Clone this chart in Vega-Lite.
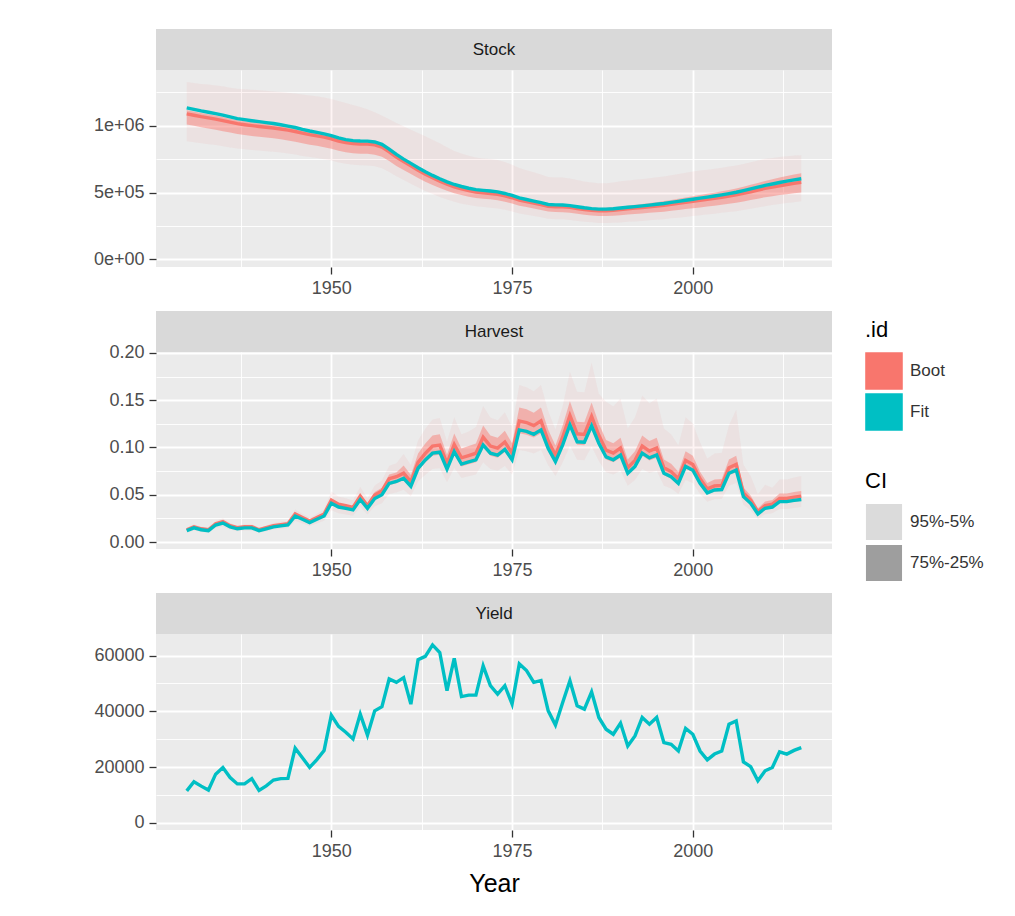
{
  "$schema": "https://vega.github.io/schema/vega-lite/v6.json",
  "background": "white",
  "padding": {"left": 93, "top": 29, "right": 0, "bottom": 0},
  "config": {
    "font": "Liberation Sans",
    "view": {"fill": "#ebebeb", "stroke": null},
    "axis": {
      "labelFont": "Liberation Sans", "labelFontSize": 18, "labelColor": "#4d4d4d",
      "tickColor": "#333333", "tickSize": 7, "tickWidth": 1.3, "labelPadding": 5,
      "domain": false, "gridColor": "#ffffff", "gridWidth": 1.8, "titleFont": "Liberation Sans"
    },
    "axisLeft": {"minExtent": 62, "maxExtent": 62},
    "legend": {
      "titleFont": "Liberation Sans", "labelFont": "Liberation Sans",
      "titleFontSize": 22, "titleFontWeight": "normal", "titleColor": "#000000",
      "labelFontSize": 17, "labelColor": "#333333", "symbolType": "square", "symbolSize": 1300,
      "symbolOpacity": 1,
      "rowPadding": -3, "labelOffset": 7, "titlePadding": 10, "padding": 0
    }
  },
  "datasets": {
    "stock": [
      {"year":1930,"fit":1133000,"med":1088000,"q25":1008000,"q75":1116000,"q05":884000,"q95":1326000},
      {"year":1931,"fit":1122000,"med":1078000,"q25":999000,"q75":1106000,"q05":876000,"q95":1319000},
      {"year":1932,"fit":1110000,"med":1067000,"q25":988000,"q75":1094000,"q05":868000,"q95":1312000},
      {"year":1933,"fit":1100000,"med":1058000,"q25":979000,"q75":1085000,"q05":861000,"q95":1307000},
      {"year":1934,"fit":1090000,"med":1049000,"q25":970000,"q75":1076000,"q05":855000,"q95":1301000},
      {"year":1935,"fit":1078000,"med":1038000,"q25":959000,"q75":1065000,"q05":846000,"q95":1294000},
      {"year":1936,"fit":1065000,"med":1026000,"q25":948000,"q75":1052000,"q05":837000,"q95":1284000},
      {"year":1937,"fit":1053000,"med":1015000,"q25":937000,"q75":1041000,"q05":829000,"q95":1276000},
      {"year":1938,"fit":1045000,"med":1007000,"q25":930000,"q75":1034000,"q05":823000,"q95":1273000},
      {"year":1939,"fit":1037000,"med":1000000,"q25":923000,"q75":1026000,"q05":818000,"q95":1269000},
      {"year":1940,"fit":1030000,"med":994000,"q25":917000,"q75":1020000,"q05":814000,"q95":1264000},
      {"year":1941,"fit":1023000,"med":988000,"q25":911000,"q75":1014000,"q05":809000,"q95":1260000},
      {"year":1942,"fit":1016000,"med":982000,"q25":905000,"q75":1008000,"q05":805000,"q95":1256000},
      {"year":1943,"fit":1007000,"med":975000,"q25":898000,"q75":1000000,"q05":799000,"q95":1251000},
      {"year":1944,"fit":997000,"med":966000,"q25":889000,"q75":991000,"q05":792000,"q95":1246000},
      {"year":1945,"fit":986000,"med":956000,"q25":880000,"q75":981000,"q05":784000,"q95":1240000},
      {"year":1946,"fit":972000,"med":944000,"q25":868000,"q75":968000,"q05":774000,"q95":1233000},
      {"year":1947,"fit":960000,"med":933000,"q25":858000,"q75":957000,"q05":765000,"q95":1226000},
      {"year":1948,"fit":950000,"med":924000,"q25":849000,"q75":948000,"q05":758000,"q95":1219000},
      {"year":1949,"fit":938000,"med":914000,"q25":839000,"q75":937000,"q05":749000,"q95":1210000},
      {"year":1950,"fit":925000,"med":902000,"q25":828000,"q75":925000,"q05":740000,"q95":1200000},
      {"year":1951,"fit":908000,"med":885000,"q25":812000,"q75":908000,"q05":725000,"q95":1185000},
      {"year":1952,"fit":896000,"med":874000,"q25":801000,"q75":896000,"q05":715000,"q95":1170000},
      {"year":1953,"fit":888000,"med":866000,"q25":793000,"q75":888000,"q05":708000,"q95":1155000},
      {"year":1954,"fit":885000,"med":863000,"q25":790000,"q75":885000,"q05":704000,"q95":1140000},
      {"year":1955,"fit":884000,"med":862000,"q25":789000,"q75":884000,"q05":703000,"q95":1122000},
      {"year":1956,"fit":878000,"med":856000,"q25":783000,"q75":878000,"q05":697000,"q95":1100000},
      {"year":1957,"fit":860000,"med":839000,"q25":767000,"q75":860000,"q05":682000,"q95":1075000},
      {"year":1958,"fit":825000,"med":804000,"q25":735000,"q75":825000,"q05":653000,"q95":1048000},
      {"year":1959,"fit":785000,"med":765000,"q25":699000,"q75":785000,"q05":621000,"q95":1020000},
      {"year":1960,"fit":750000,"med":731000,"q25":668000,"q75":750000,"q05":593000,"q95":995000},
      {"year":1961,"fit":718000,"med":699000,"q25":638000,"q75":718000,"q05":565000,"q95":970000},
      {"year":1962,"fit":685000,"med":667000,"q25":608000,"q75":685000,"q05":537000,"q95":945000},
      {"year":1963,"fit":655000,"med":637000,"q25":581000,"q75":655000,"q05":512000,"q95":920000},
      {"year":1964,"fit":628000,"med":610000,"q25":556000,"q75":628000,"q05":489000,"q95":895000},
      {"year":1965,"fit":603000,"med":585000,"q25":534000,"q75":603000,"q05":467000,"q95":868000},
      {"year":1966,"fit":580000,"med":562000,"q25":513000,"q75":580000,"q05":448000,"q95":838000},
      {"year":1967,"fit":560000,"med":542000,"q25":494000,"q75":560000,"q05":431000,"q95":811000},
      {"year":1968,"fit":545000,"med":527000,"q25":481000,"q75":545000,"q05":417000,"q95":791000},
      {"year":1969,"fit":532000,"med":514000,"q25":469000,"q75":532000,"q05":406000,"q95":775000},
      {"year":1970,"fit":522000,"med":504000,"q25":459000,"q75":522000,"q05":397000,"q95":762000},
      {"year":1971,"fit":516000,"med":498000,"q25":454000,"q75":517000,"q05":391000,"q95":755000},
      {"year":1972,"fit":511000,"med":493000,"q25":449000,"q75":512000,"q05":386000,"q95":750000},
      {"year":1973,"fit":505000,"med":487000,"q25":443000,"q75":507000,"q05":381000,"q95":743000},
      {"year":1974,"fit":493000,"med":476000,"q25":432000,"q75":495000,"q05":371000,"q95":728000},
      {"year":1975,"fit":478000,"med":461000,"q25":418000,"q75":480000,"q05":359000,"q95":707000},
      {"year":1976,"fit":460000,"med":444000,"q25":402000,"q75":463000,"q05":344000,"q95":683000},
      {"year":1977,"fit":448000,"med":432000,"q25":391000,"q75":451000,"q05":334000,"q95":667000},
      {"year":1978,"fit":436000,"med":421000,"q25":380000,"q75":439000,"q05":324000,"q95":651000},
      {"year":1979,"fit":424000,"med":409000,"q25":369000,"q75":428000,"q05":315000,"q95":634000},
      {"year":1980,"fit":411000,"med":397000,"q25":358000,"q75":415000,"q05":304000,"q95":617000},
      {"year":1981,"fit":408000,"med":394000,"q25":355000,"q75":413000,"q05":301000,"q95":613000},
      {"year":1982,"fit":407000,"med":393000,"q25":353000,"q75":413000,"q05":300000,"q95":612000},
      {"year":1983,"fit":402000,"med":389000,"q25":349000,"q75":408000,"q05":295000,"q95":605000},
      {"year":1984,"fit":394000,"med":381000,"q25":341000,"q75":401000,"q05":288000,"q95":594000},
      {"year":1985,"fit":386000,"med":373000,"q25":334000,"q75":394000,"q05":282000,"q95":583000},
      {"year":1986,"fit":380000,"med":368000,"q25":328000,"q75":388000,"q05":277000,"q95":575000},
      {"year":1987,"fit":376000,"med":364000,"q25":324000,"q75":385000,"q05":273000,"q95":569000},
      {"year":1988,"fit":376000,"med":364000,"q25":324000,"q75":386000,"q05":272000,"q95":570000},
      {"year":1989,"fit":379000,"med":367000,"q25":326000,"q75":390000,"q05":274000,"q95":575000},
      {"year":1990,"fit":384000,"med":372000,"q25":330000,"q75":396000,"q05":276000,"q95":584000},
      {"year":1991,"fit":390000,"med":378000,"q25":335000,"q75":402000,"q05":281000,"q95":590000},
      {"year":1992,"fit":395000,"med":383000,"q25":339000,"q75":408000,"q05":284000,"q95":596000},
      {"year":1993,"fit":400000,"med":387000,"q25":343000,"q75":414000,"q05":288000,"q95":601000},
      {"year":1994,"fit":406000,"med":393000,"q25":348000,"q75":421000,"q05":292000,"q95":607000},
      {"year":1995,"fit":412000,"med":399000,"q25":352000,"q75":428000,"q05":297000,"q95":614000},
      {"year":1996,"fit":418000,"med":404000,"q25":357000,"q75":436000,"q05":301000,"q95":620000},
      {"year":1997,"fit":426000,"med":412000,"q25":363000,"q75":445000,"q05":307000,"q95":630000},
      {"year":1998,"fit":434000,"med":419000,"q25":370000,"q75":454000,"q05":312000,"q95":639000},
      {"year":1999,"fit":442000,"med":427000,"q25":376000,"q75":463000,"q05":318000,"q95":648000},
      {"year":2000,"fit":450000,"med":434000,"q25":383000,"q75":473000,"q05":324000,"q95":657000},
      {"year":2001,"fit":458000,"med":442000,"q25":389000,"q75":481000,"q05":330000,"q95":664000},
      {"year":2002,"fit":466000,"med":449000,"q25":395000,"q75":490000,"q05":336000,"q95":671000},
      {"year":2003,"fit":474000,"med":457000,"q25":401000,"q75":499000,"q05":341000,"q95":678000},
      {"year":2004,"fit":483000,"med":465000,"q25":409000,"q75":509000,"q05":348000,"q95":686000},
      {"year":2005,"fit":492000,"med":474000,"q25":416000,"q75":519000,"q05":354000,"q95":694000},
      {"year":2006,"fit":502000,"med":483000,"q25":424000,"q75":530000,"q05":361000,"q95":703000},
      {"year":2007,"fit":514000,"med":494000,"q25":433000,"q75":543000,"q05":370000,"q95":714000},
      {"year":2008,"fit":527000,"med":506000,"q25":444000,"q75":558000,"q05":379000,"q95":727000},
      {"year":2009,"fit":540000,"med":519000,"q25":454000,"q75":572000,"q05":389000,"q95":740000},
      {"year":2010,"fit":553000,"med":531000,"q25":465000,"q75":586000,"q05":398000,"q95":752000},
      {"year":2011,"fit":564000,"med":541000,"q25":473000,"q75":599000,"q05":406000,"q95":759000},
      {"year":2012,"fit":575000,"med":551000,"q25":481000,"q75":612000,"q05":414000,"q95":766000},
      {"year":2013,"fit":585000,"med":560000,"q25":488000,"q75":624000,"q05":421000,"q95":771000},
      {"year":2014,"fit":595000,"med":569000,"q25":495000,"q75":635000,"q05":428000,"q95":776000},
      {"year":2015,"fit":603000,"med":576000,"q25":500000,"q75":645000,"q05":434000,"q95":778000}
    ],
    "harvest": [
      {"year":1930,"fit":0.012,"med":0.0130,"q25":0.0116,"q75":0.0132,"q05":0.0098,"q95":0.0150},
      {"year":1931,"fit":0.015,"med":0.0162,"q25":0.0146,"q75":0.0165,"q05":0.0123,"q95":0.0188},
      {"year":1932,"fit":0.013,"med":0.0140,"q25":0.0126,"q75":0.0143,"q05":0.0107,"q95":0.0163},
      {"year":1933,"fit":0.012,"med":0.0130,"q25":0.0116,"q75":0.0132,"q05":0.0098,"q95":0.0150},
      {"year":1934,"fit":0.018,"med":0.0194,"q25":0.0175,"q75":0.0198,"q05":0.0148,"q95":0.0225},
      {"year":1935,"fit":0.020,"med":0.0216,"q25":0.0194,"q75":0.0220,"q05":0.0164,"q95":0.0250},
      {"year":1936,"fit":0.016,"med":0.0173,"q25":0.0155,"q75":0.0176,"q05":0.0131,"q95":0.0200},
      {"year":1937,"fit":0.014,"med":0.0151,"q25":0.0136,"q75":0.0154,"q05":0.0115,"q95":0.0175},
      {"year":1938,"fit":0.015,"med":0.0162,"q25":0.0146,"q75":0.0165,"q05":0.0123,"q95":0.0188},
      {"year":1939,"fit":0.015,"med":0.0162,"q25":0.0146,"q75":0.0165,"q05":0.0123,"q95":0.0188},
      {"year":1940,"fit":0.012,"med":0.0130,"q25":0.0116,"q75":0.0132,"q05":0.0098,"q95":0.0150},
      {"year":1941,"fit":0.014,"med":0.0151,"q25":0.0136,"q75":0.0154,"q05":0.0115,"q95":0.0175},
      {"year":1942,"fit":0.016,"med":0.0173,"q25":0.0155,"q75":0.0176,"q05":0.0131,"q95":0.0200},
      {"year":1943,"fit":0.017,"med":0.0184,"q25":0.0165,"q75":0.0187,"q05":0.0139,"q95":0.0213},
      {"year":1944,"fit":0.018,"med":0.0194,"q25":0.0175,"q75":0.0198,"q05":0.0148,"q95":0.0225},
      {"year":1945,"fit":0.0275,"med":0.0297,"q25":0.0267,"q75":0.0303,"q05":0.0226,"q95":0.0344},
      {"year":1946,"fit":0.024,"med":0.0259,"q25":0.0233,"q75":0.0264,"q05":0.0197,"q95":0.0300},
      {"year":1947,"fit":0.0205,"med":0.0221,"q25":0.0199,"q75":0.0226,"q05":0.0168,"q95":0.0256},
      {"year":1948,"fit":0.024,"med":0.0259,"q25":0.0233,"q75":0.0264,"q05":0.0197,"q95":0.0300},
      {"year":1949,"fit":0.0275,"med":0.0297,"q25":0.0267,"q75":0.0303,"q05":0.0226,"q95":0.0344},
      {"year":1950,"fit":0.041,"med":0.0443,"q25":0.0398,"q75":0.0451,"q05":0.0336,"q95":0.0533},
      {"year":1951,"fit":0.037,"med":0.0400,"q25":0.0359,"q75":0.0407,"q05":0.0303,"q95":0.0481},
      {"year":1952,"fit":0.0356,"med":0.0384,"q25":0.0345,"q75":0.0392,"q05":0.0292,"q95":0.0463},
      {"year":1953,"fit":0.034,"med":0.0367,"q25":0.0330,"q75":0.0374,"q05":0.0279,"q95":0.0442},
      {"year":1954,"fit":0.045,"med":0.0486,"q25":0.0437,"q75":0.0495,"q05":0.0369,"q95":0.0585},
      {"year":1955,"fit":0.0356,"med":0.0384,"q25":0.0345,"q75":0.0409,"q05":0.0292,"q95":0.0463},
      {"year":1956,"fit":0.046,"med":0.0497,"q25":0.0446,"q75":0.0529,"q05":0.0377,"q95":0.0598},
      {"year":1957,"fit":0.050,"med":0.0540,"q25":0.0485,"q75":0.0575,"q05":0.0410,"q95":0.0650},
      {"year":1958,"fit":0.062,"med":0.0670,"q25":0.0601,"q75":0.0713,"q05":0.0508,"q95":0.0806},
      {"year":1959,"fit":0.064,"med":0.0691,"q25":0.0621,"q75":0.0736,"q05":0.0525,"q95":0.0832},
      {"year":1960,"fit":0.0674,"med":0.0728,"q25":0.0654,"q75":0.0809,"q05":0.0553,"q95":0.0930},
      {"year":1961,"fit":0.059,"med":0.0637,"q25":0.0572,"q75":0.0708,"q05":0.0484,"q95":0.0814},
      {"year":1962,"fit":0.078,"med":0.0842,"q25":0.0757,"q75":0.0936,"q05":0.0640,"q95":0.1076},
      {"year":1963,"fit":0.0868,"med":0.0937,"q25":0.0842,"q75":0.1042,"q05":0.0712,"q95":0.1198},
      {"year":1964,"fit":0.094,"med":0.1015,"q25":0.0912,"q75":0.1128,"q05":0.0771,"q95":0.1297},
      {"year":1965,"fit":0.095,"med":0.1026,"q25":0.0922,"q75":0.1140,"q05":0.0779,"q95":0.1311},
      {"year":1966,"fit":0.077,"med":0.0832,"q25":0.0747,"q75":0.0924,"q05":0.0631,"q95":0.1063},
      {"year":1967,"fit":0.0956,"med":0.1032,"q25":0.0927,"q75":0.1147,"q05":0.0784,"q95":0.1319},
      {"year":1968,"fit":0.0825,"med":0.0891,"q25":0.0800,"q75":0.0990,"q05":0.0677,"q95":0.1139},
      {"year":1969,"fit":0.0847,"med":0.0915,"q25":0.0822,"q75":0.1016,"q05":0.0695,"q95":0.1169},
      {"year":1970,"fit":0.0869,"med":0.0939,"q25":0.0843,"q75":0.1043,"q05":0.0713,"q95":0.1217},
      {"year":1971,"fit":0.1027,"med":0.1109,"q25":0.0996,"q75":0.1232,"q05":0.0842,"q95":0.1438},
      {"year":1972,"fit":0.094,"med":0.1015,"q25":0.0912,"q75":0.1128,"q05":0.0771,"q95":0.1316},
      {"year":1973,"fit":0.092,"med":0.0994,"q25":0.0892,"q75":0.1104,"q05":0.0754,"q95":0.1288},
      {"year":1974,"fit":0.098,"med":0.1058,"q25":0.0951,"q75":0.1176,"q05":0.0804,"q95":0.1372},
      {"year":1975,"fit":0.087,"med":0.0940,"q25":0.0844,"q75":0.1044,"q05":0.0713,"q95":0.1218},
      {"year":1976,"fit":0.1186,"med":0.1281,"q25":0.1150,"q75":0.1423,"q05":0.0973,"q95":0.1660},
      {"year":1977,"fit":0.117,"med":0.1264,"q25":0.1135,"q75":0.1404,"q05":0.0959,"q95":0.1638},
      {"year":1978,"fit":0.114,"med":0.1231,"q25":0.1106,"q75":0.1368,"q05":0.0935,"q95":0.1596},
      {"year":1979,"fit":0.1186,"med":0.1281,"q25":0.1150,"q75":0.1423,"q05":0.0973,"q95":0.1660},
      {"year":1980,"fit":0.099,"med":0.1069,"q25":0.0960,"q75":0.1188,"q05":0.0812,"q95":0.1386},
      {"year":1981,"fit":0.085,"med":0.0918,"q25":0.0825,"q75":0.1020,"q05":0.0697,"q95":0.1190},
      {"year":1982,"fit":0.1027,"med":0.1109,"q25":0.0996,"q75":0.1232,"q05":0.0842,"q95":0.1438},
      {"year":1983,"fit":0.124,"med":0.1339,"q25":0.1203,"q75":0.1488,"q05":0.1017,"q95":0.1800},
      {"year":1984,"fit":0.106,"med":0.1145,"q25":0.1028,"q75":0.1272,"q05":0.0869,"q95":0.1590},
      {"year":1985,"fit":0.1055,"med":0.1139,"q25":0.1023,"q75":0.1266,"q05":0.0865,"q95":0.1583},
      {"year":1986,"fit":0.123,"med":0.1328,"q25":0.1193,"q75":0.1476,"q05":0.1009,"q95":0.1900},
      {"year":1987,"fit":0.1045,"med":0.1129,"q25":0.1014,"q75":0.1254,"q05":0.0857,"q95":0.1568},
      {"year":1988,"fit":0.090,"med":0.0972,"q25":0.0873,"q75":0.1080,"q05":0.0738,"q95":0.1485},
      {"year":1989,"fit":0.087,"med":0.0940,"q25":0.0844,"q75":0.1044,"q05":0.0713,"q95":0.1436},
      {"year":1990,"fit":0.092,"med":0.0994,"q25":0.0892,"q75":0.1104,"q05":0.0754,"q95":0.1518},
      {"year":1991,"fit":0.0727,"med":0.0785,"q25":0.0705,"q75":0.0872,"q05":0.0596,"q95":0.1200},
      {"year":1992,"fit":0.080,"med":0.0864,"q25":0.0776,"q75":0.0960,"q05":0.0656,"q95":0.1320},
      {"year":1993,"fit":0.094,"med":0.1015,"q25":0.0912,"q75":0.1128,"q05":0.0771,"q95":0.1551},
      {"year":1994,"fit":0.089,"med":0.0961,"q25":0.0863,"q75":0.1068,"q05":0.0730,"q95":0.1469},
      {"year":1995,"fit":0.092,"med":0.0994,"q25":0.0892,"q75":0.1104,"q05":0.0754,"q95":0.1518},
      {"year":1996,"fit":0.0727,"med":0.0785,"q25":0.0705,"q75":0.0872,"q05":0.0596,"q95":0.1200},
      {"year":1997,"fit":0.069,"med":0.0745,"q25":0.0669,"q75":0.0828,"q05":0.0566,"q95":0.1139},
      {"year":1998,"fit":0.062,"med":0.0670,"q25":0.0601,"q75":0.0744,"q05":0.0508,"q95":0.1023},
      {"year":1999,"fit":0.080,"med":0.0864,"q25":0.0776,"q75":0.0960,"q05":0.0656,"q95":0.1320},
      {"year":2000,"fit":0.076,"med":0.0821,"q25":0.0737,"q75":0.0912,"q05":0.0623,"q95":0.1254},
      {"year":2001,"fit":0.062,"med":0.0670,"q25":0.0601,"q75":0.0744,"q05":0.0508,"q95":0.1054},
      {"year":2002,"fit":0.052,"med":0.0562,"q25":0.0504,"q75":0.0624,"q05":0.0426,"q95":0.0884},
      {"year":2003,"fit":0.055,"med":0.0594,"q25":0.0534,"q75":0.0660,"q05":0.0451,"q95":0.0935},
      {"year":2004,"fit":0.0555,"med":0.0599,"q25":0.0538,"q75":0.0666,"q05":0.0455,"q95":0.0944},
      {"year":2005,"fit":0.0727,"med":0.0785,"q25":0.0705,"q75":0.0872,"q05":0.0596,"q95":0.1236},
      {"year":2006,"fit":0.076,"med":0.0821,"q25":0.0737,"q75":0.0912,"q05":0.0623,"q95":0.1400},
      {"year":2007,"fit":0.048,"med":0.0518,"q25":0.0466,"q75":0.0576,"q05":0.0394,"q95":0.0816},
      {"year":2008,"fit":0.041,"med":0.0443,"q25":0.0398,"q75":0.0492,"q05":0.0336,"q95":0.0697},
      {"year":2009,"fit":0.0297,"med":0.0321,"q25":0.0288,"q75":0.0356,"q05":0.0244,"q95":0.0505},
      {"year":2010,"fit":0.0357,"med":0.0386,"q25":0.0346,"q75":0.0428,"q05":0.0293,"q95":0.0607},
      {"year":2011,"fit":0.037,"med":0.0400,"q25":0.0359,"q75":0.0444,"q05":0.0303,"q95":0.0574},
      {"year":2012,"fit":0.0427,"med":0.0461,"q25":0.0414,"q75":0.0512,"q05":0.0350,"q95":0.0662},
      {"year":2013,"fit":0.0427,"med":0.0461,"q25":0.0414,"q75":0.0512,"q05":0.0350,"q95":0.0662},
      {"year":2014,"fit":0.044,"med":0.0475,"q25":0.0427,"q75":0.0528,"q05":0.0361,"q95":0.0682},
      {"year":2015,"fit":0.045,"med":0.0486,"q25":0.0437,"q75":0.0540,"q05":0.0369,"q95":0.0698}
    ],
    "yield": [
      {"year":1930,"fit":11500},{"year":1931,"fit":14800},{"year":1932,"fit":13200},{"year":1933,"fit":11800},
      {"year":1934,"fit":17500},{"year":1935,"fit":19900},{"year":1936,"fit":16300},{"year":1937,"fit":14000},
      {"year":1938,"fit":14000},{"year":1939,"fit":15900},{"year":1940,"fit":11700},{"year":1941,"fit":13300},
      {"year":1942,"fit":15400},{"year":1943,"fit":15900},{"year":1944,"fit":16000},{"year":1945,"fit":26800},
      {"year":1946,"fit":23400},{"year":1947,"fit":19900},{"year":1948,"fit":22700},{"year":1949,"fit":26000},
      {"year":1950,"fit":38600},{"year":1951,"fit":34600},{"year":1952,"fit":32500},{"year":1953,"fit":30100},
      {"year":1954,"fit":39000},{"year":1955,"fit":31500},{"year":1956,"fit":40200},{"year":1957,"fit":41700},
      {"year":1958,"fit":51600},{"year":1959,"fit":50400},{"year":1960,"fit":52100},{"year":1961,"fit":42600},
      {"year":1962,"fit":58500},{"year":1963,"fit":59700},{"year":1964,"fit":63800},{"year":1965,"fit":61100},
      {"year":1966,"fit":47400},{"year":1967,"fit":59000},{"year":1968,"fit":45300},{"year":1969,"fit":45800},
      {"year":1970,"fit":45800},{"year":1971,"fit":56300},{"year":1972,"fit":49200},{"year":1973,"fit":46200},
      {"year":1974,"fit":49200},{"year":1975,"fit":42600},{"year":1976,"fit":57000},{"year":1977,"fit":54600},
      {"year":1978,"fit":50400},{"year":1979,"fit":51000},{"year":1980,"fit":40200},{"year":1981,"fit":35100},
      {"year":1982,"fit":43200},{"year":1983,"fit":51000},{"year":1984,"fit":42000},{"year":1985,"fit":40800},
      {"year":1986,"fit":47000},{"year":1987,"fit":37800},{"year":1988,"fit":33600},{"year":1989,"fit":31800},
      {"year":1990,"fit":35800},{"year":1991,"fit":27600},{"year":1992,"fit":31200},{"year":1993,"fit":37800},
      {"year":1994,"fit":35400},{"year":1995,"fit":37800},{"year":1996,"fit":28800},{"year":1997,"fit":28200},
      {"year":1998,"fit":25800},{"year":1999,"fit":33900},{"year":2000,"fit":31800},{"year":2001,"fit":25800},
      {"year":2002,"fit":22600},{"year":2003,"fit":24700},{"year":2004,"fit":25800},{"year":2005,"fit":35400},
      {"year":2006,"fit":36600},{"year":2007,"fit":21900},{"year":2008,"fit":20200},{"year":2009,"fit":15100},
      {"year":2010,"fit":18700},{"year":2011,"fit":19900},{"year":2012,"fit":25500},{"year":2013,"fit":24700},
      {"year":2014,"fit":26000},{"year":2015,"fit":27000}
    ]
  },
  "spacing": 14,
  "vconcat": [
    {
      "bounds": "flush",
      "spacing": 0,
      "vconcat": [
        {
          "width": 676, "height": 41,
          "view": {"fill": "#d9d9d9", "stroke": null},
          "data": {"values": [{"panel": "Stock"}]},
          "mark": {"type": "text", "fontSize": 17, "color": "#1a1a1a"},
          "encoding": {
            "text": {"field": "panel"},
            "x": {"field": "panel", "type": "nominal", "axis": null},
            "y": {"field": "panel", "type": "nominal", "axis": null}
          }
        },
        {
          "width": 676, "height": 197,
          "data": {"name": "stock"},
          "resolve": {"axis": {"x": "independent", "y": "independent"}},
          "layer": [
            {
              "mark": {"type": "area", "opacity": 0.08},
              "encoding": {
                "x": {"field": "year", "type": "quantitative", "scale": {"domain": [1925.75, 2019.25], "nice": false, "zero": false},
                      "axis": {"orient": "top", "values": [1937.5, 1962.5, 1987.5, 2012.5], "labels": false, "ticks": false, "grid": true, "gridWidth": 0.9, "title": null}},
                "y": {"field": "q05", "type": "quantitative", "scale": {"domain": [-56700, 1416000], "nice": false, "zero": false},
                      "axis": {"orient": "right", "values": [250000, 750000, 1250000], "labels": false, "ticks": false, "grid": true, "gridWidth": 0.9, "title": null}},
                "y2": {"field": "q95"},
                "color": {"datum": "Boot", "type": "nominal",
                          "scale": {"domain": ["Boot", "Fit"], "range": ["#F8766D", "#00BFC4"]},
                          "legend": {"title": ".id", "orient": "none", "legendX": 709, "legendY": 291}}
              }
            },
            {
              "mark": {"type": "area", "opacity": 0.45},
              "encoding": {
                "x": {"field": "year", "type": "quantitative", "scale": {"domain": [1925.75, 2019.25], "nice": false, "zero": false},
                      "axis": {"orient": "bottom", "values": [1950, 1975, 2000], "format": "d", "grid": true, "title": null}},
                "y": {"field": "q25", "type": "quantitative", "scale": {"domain": [-56700, 1416000], "nice": false, "zero": false},
                      "axis": {"orient": "left", "values": [0, 500000, 1000000], "grid": true, "title": null,
                               "labelExpr": "datum.value == 0 ? '0e+00' : datum.value == 500000 ? '5e+05' : '1e+06'"}},
                "y2": {"field": "q75"},
                "color": {"datum": "Boot", "type": "nominal"}
              }
            },
            {
              "mark": {"type": "line", "strokeWidth": 3.4},
              "encoding": {
                "x": {"field": "year", "type": "quantitative", "axis": null},
                "y": {"field": "med", "type": "quantitative", "axis": null},
                "color": {"datum": "Boot", "type": "nominal"}
              }
            },
            {
              "mark": {"type": "line", "strokeWidth": 3.4},
              "encoding": {
                "x": {"field": "year", "type": "quantitative", "axis": null},
                "y": {"field": "fit", "type": "quantitative", "axis": null},
                "color": {"datum": "Fit", "type": "nominal"}
              }
            }
          ]
        }
      ]
    },
    {
      "bounds": "flush",
      "spacing": 0,
      "vconcat": [
        {
          "width": 676, "height": 41,
          "view": {"fill": "#d9d9d9", "stroke": null},
          "data": {"values": [{"panel": "Harvest"}]},
          "mark": {"type": "text", "fontSize": 17, "color": "#1a1a1a"},
          "encoding": {
            "text": {"field": "panel"},
            "x": {"field": "panel", "type": "nominal", "axis": null},
            "y": {"field": "panel", "type": "nominal", "axis": null}
          }
        },
        {
          "width": 676, "height": 197,
          "data": {"name": "harvest"},
          "resolve": {"axis": {"x": "independent", "y": "independent"}},
          "layer": [
            {
              "mark": {"type": "area", "opacity": 0.08},
              "encoding": {
                "x": {"field": "year", "type": "quantitative", "scale": {"domain": [1925.75, 2019.25], "nice": false, "zero": false},
                      "axis": {"orient": "top", "values": [1937.5, 1962.5, 1987.5, 2012.5], "labels": false, "ticks": false, "grid": true, "gridWidth": 0.9, "title": null}},
                "y": {"field": "q05", "type": "quantitative", "scale": {"domain": [-0.0074, 0.201], "nice": false, "zero": false},
                      "axis": {"orient": "right", "values": [0.025, 0.075, 0.125, 0.175], "labels": false, "ticks": false, "grid": true, "gridWidth": 0.9, "title": null}},
                "y2": {"field": "q95"},
                "color": {"datum": "Boot", "type": "nominal"}
              }
            },
            {
              "mark": {"type": "area", "opacity": 0.45},
              "encoding": {
                "x": {"field": "year", "type": "quantitative", "scale": {"domain": [1925.75, 2019.25], "nice": false, "zero": false},
                      "axis": {"orient": "bottom", "values": [1950, 1975, 2000], "format": "d", "grid": true, "title": null}},
                "y": {"field": "q25", "type": "quantitative", "scale": {"domain": [-0.0074, 0.201], "nice": false, "zero": false},
                      "axis": {"orient": "left", "values": [0, 0.05, 0.1, 0.15, 0.2], "format": ".2f", "grid": true, "title": null}},
                "y2": {"field": "q75"},
                "color": {"datum": "Boot", "type": "nominal"}
              }
            },
            {
              "mark": {"type": "line", "strokeWidth": 3.4},
              "encoding": {
                "x": {"field": "year", "type": "quantitative", "axis": null},
                "y": {"field": "med", "type": "quantitative", "axis": null},
                "color": {"datum": "Boot", "type": "nominal"}
              }
            },
            {
              "mark": {"type": "line", "strokeWidth": 3.4},
              "encoding": {
                "x": {"field": "year", "type": "quantitative", "axis": null},
                "y": {"field": "fit", "type": "quantitative", "axis": null},
                "color": {"datum": "Fit", "type": "nominal"}
              }
            }
          ]
        }
      ]
    },
    {
      "bounds": "flush",
      "spacing": 0,
      "vconcat": [
        {
          "width": 676, "height": 41,
          "view": {"fill": "#d9d9d9", "stroke": null},
          "data": {"values": [{"panel": "Yield"}]},
          "mark": {"type": "text", "fontSize": 17, "color": "#1a1a1a"},
          "encoding": {
            "text": {"field": "panel"},
            "x": {"field": "panel", "type": "nominal", "axis": null},
            "y": {"field": "panel", "type": "nominal", "axis": null}
          }
        },
        {
          "width": 676, "height": 196,
          "data": {"name": "yield"},
          "resolve": {"axis": {"x": "independent", "y": "independent"}},
          "layer": [
            {
              "mark": {"type": "line", "opacity": 0},
              "encoding": {
                "x": {"field": "year", "type": "quantitative", "scale": {"domain": [1925.75, 2019.25], "nice": false, "zero": false},
                      "axis": {"orient": "top", "values": [1937.5, 1962.5, 1987.5, 2012.5], "labels": false, "ticks": false, "grid": true, "gridWidth": 0.9, "title": null}},
                "y": {"field": "fit", "type": "quantitative", "scale": {"domain": [-2513, 67720], "nice": false, "zero": false},
                      "axis": {"orient": "right", "values": [10000, 30000, 50000], "labels": false, "ticks": false, "grid": true, "gridWidth": 0.9, "title": null}}
              }
            },
            {
              "mark": {"type": "line", "strokeWidth": 3.4},
              "encoding": {
                "x": {"field": "year", "type": "quantitative", "scale": {"domain": [1925.75, 2019.25], "nice": false, "zero": false},
                      "axis": {"orient": "bottom", "values": [1950, 1975, 2000], "format": "d", "grid": true, "title": "Year",
                               "titleFontSize": 25, "titleFontWeight": "normal", "titleColor": "#000000", "titlePadding": 11}},
                "y": {"field": "fit", "type": "quantitative", "scale": {"domain": [-2513, 67720], "nice": false, "zero": false},
                      "axis": {"orient": "left", "values": [0, 20000, 40000, 60000], "format": "d", "grid": true, "title": null}},
                "color": {"datum": "Fit", "type": "nominal"}
              }
            },
            {
              "data": {"values": []},
              "mark": {"type": "point", "shape": "square", "filled": true, "color": "#333333"},
              "encoding": {
                "x": {"field": "year", "type": "quantitative", "axis": null},
                "y": {"field": "fit", "type": "quantitative", "axis": null},
                "opacity": {"datum": "95%-5%", "type": "ordinal",
                            "scale": {"domain": ["95%-5%", "75%-25%"], "range": [0.17, 0.47]},
                            "legend": {"title": "CI", "orient": "none", "legendX": 709, "legendY": 442}}
              }
            }
          ]
        }
      ]
    }
  ]
}
